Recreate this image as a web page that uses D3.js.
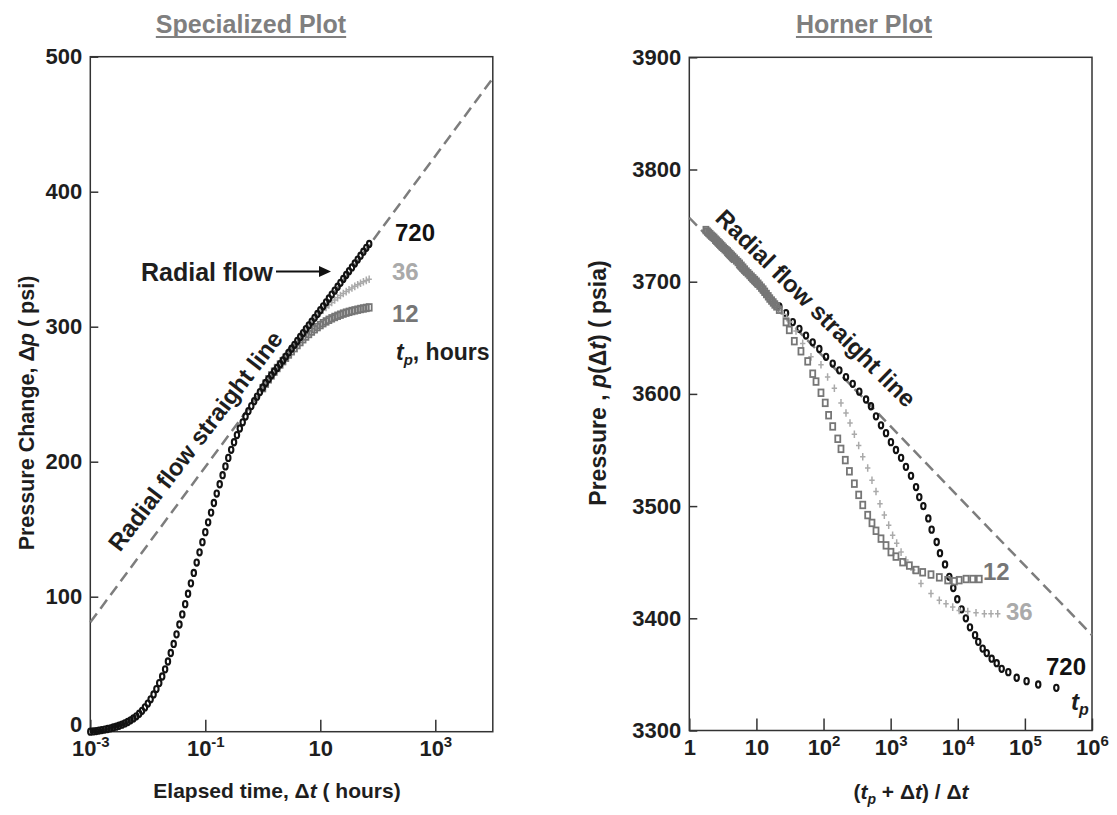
<!DOCTYPE html>
<html><head><meta charset="utf-8">
<script src="https://cdn.jsdelivr.net/npm/d3@7"></script>
<style>
body{margin:0;background:#fff;}
svg text{font-family:"Liberation Sans",Arial,Helvetica,sans-serif;font-weight:bold;}
</style></head><body>
<svg id="c" width="1117" height="815"></svg>
<script>
// ---------------- DATA ----------------
// Specialized plot (semi-log): elapsed time (hours) and pressure change (psi)
const dtHours = [0.001,0.00112,0.00126,0.00141,0.00158,0.00178,0.002,0.00224,0.00251,0.00282,0.00316,0.00355,0.00398,0.00447,0.00501,0.00562,0.00631,0.00708,0.00794,0.00891,
0.01,0.0112,0.0126,0.0141,0.0158,0.0178,0.02,0.0224,0.0251,0.0282,0.0316,0.0355,0.0398,0.0447,0.0501,0.0562,0.0631,0.0708,0.0794,0.0891,
0.1,0.112,0.126,0.141,0.158,0.178,0.2,0.224,0.251,0.282,0.316,0.355,0.398,0.447,0.501,0.562,0.631,0.708,0.794,0.891,
1,1.12,1.26,1.41,1.58,1.78,2,2.24,2.51,2.82,3.16,3.55,3.98,4.47,5.01,5.62,6.31,7.08,7.94,8.91,
10,11.2,12.6,14.1,15.8,17.8,20,22.4,25.1,28.2,31.6,35.5,39.8,44.7,50.1,56.2,63.1,70.8];
const dp720 = [0,0.2,0.5,0.8,1.2,1.6,2.0,2.5,3.1,3.7,4.4,5.2,6.1,7.2,8.4,9.8,11.4,13.3,15.5,18.0,
20.8,24.0,27.6,31.6,36.0,40.9,46.2,52.0,58.3,65.0,72.1,79.4,86.9,94.5,102.2,109.9,117.6,125.3,132.9,140.4,
147.8,155.1,162.3,169.4,176.4,183.3,190.0,196.5,202.8,208.8,214.4,219.7,224.6,229.2,233.5,237.5,241.2,244.8,248.2,251.6,
255.0,258.3,261.2,264.0,266.8,269.5,272.2,275.0,277.9,280.8,283.7,286.6,289.5,292.4,295.3,298.2,301.0,303.8,306.6,309.4,
312.2,315.1,318.0,320.9,323.8,326.7,329.6,332.5,335.4,338.3,341.1,343.9,346.8,349.7,352.6,355.5,358.4,361.3];
// tp = 12 h starts at dt = 1 h, tp = 36 h starts at dt = 5.01 h (earlier points coincide with 720)
const dt12Start = 1;
const dp12 = [254.5,257.8,261.0,263.9,266.7,269.4,272.0,274.5,277.0,279.4,281.8,284.1,286.4,288.6,290.7,292.7,294.6,296.4,298.1,299.7,
301.2,302.6,303.9,305.1,306.2,307.2,308.1,308.9,309.7,310.4,311.0,311.6,312.1,312.6,313.1,313.5,313.9,314.3];
const dt36Start = 5.01;
const dp36 = [295.5,298.2,300.8,303.3,305.7,308.0,310.2,312.3,314.3,316.2,318.0,319.8,321.5,323.1,324.6,326.0,327.4,328.7,329.9,331.1,332.2,333.3,334.3,335.2];
// radial-flow straight line (specialized plot): [dt, dp]
const radialLineLeft = [[0.001,81],[10000,484]];

// Horner plot: (tp+dt)/dt and pressure (psia)
const hornerX720 = [21.9,27.6,34.8,43.6,54.8,68.9,86.5,109,137,172,216,272,341,430,509,605,718,853,1010,1200,1430,1690,2010,2390,2670,3070,3640,4080,4850,5430,6460,7480,8570,9840,11400,13200,15200,18100,20200,23500,27000,32000,38000,45100,56600,75500,106000,158000,294000];
const hornerP720 = [3678,3672,3664,3658,3652,3646,3640,3633,3627,3621,3615,3609,3602,3595,3589,3580,3572,3565,3557,3550,3543,3535,3527,3517,3508,3500,3489,3479,3468,3458,3448,3437,3427,3417,3408,3400,3392,3385,3379,3373,3369,3364,3360,3355,3352,3347,3344,3341,3338];
const hornerX36 = [2.24,2.51,2.82,3.16,3.55,3.98,4.47,5.01,5.62,6.31,7.08,7.94,8.91,10,11.2,12.6,14.1,15.8,17.8,20,22.4,25.1,28.2,31.6,38.9,48.9,65,91.6,115,145,182,216,248,288,334,384,455,527,605,693,805,935,1070,1230,1430,1690,2130,2830,3990,5310,6680,8410,10500,14100,18700,24900,31300,39400];
const hornerP36 = [3740.5,3737,3734.5,3731.5,3728.5,3725.5,3722.5,3719.5,3716.5,3713,3709.5,3706.5,3703.5,3700.5,3697,3693.5,3689.5,3686,3682,3678.5,3675,3671,3668,3664,3656,3645,3633,3626,3615,3605,3592,3583,3574,3564,3554,3544,3534,3523,3513,3502,3492,3483,3474,3467,3459,3452,3443,3431,3422,3416,3413,3410,3407,3406,3405,3404,3404,3404];
const hornerX12 = [1.77,1.86,1.95,2.04,2.14,2.24,2.34,2.45,2.57,2.69,2.82,2.95,3.09,3.24,3.39,3.55,3.72,3.89,4.07,4.27,4.47,4.73,5.01,5.31,5.62,5.96,6.31,6.68,7.08,7.5,7.94,8.41,8.91,9.44,10,10.6,11.2,11.9,12.6,13.3,14.1,15,15.8,16.8,17.8,18.8,20,21.9,
27.6,30.9,36.7,46.1,58.1,69,77.3,91.6,106,119,137,163,182,211,243,288,334,384,455,527,605,718,853,1010,1200,1510,1900,2390,3000,3990,5310,7080,8890,10500,13300,16700,20900];
const hornerP12 = [3746,3744.7,3743.5,3742.3,3741,3740,3739,3737.6,3736.5,3735.2,3734,3732.8,3731.5,3730.2,3729,3728,3727,3725.7,3724.5,3723.2,3722,3720.5,3719,3717.5,3716,3714.2,3712.5,3710.8,3709,3707.5,3706,3704.5,3703,3701.5,3700,3698.2,3696.5,3694.7,3693,3691,3689,3687,3685,3683.2,3681.5,3679.7,3678,3675,
3664,3657,3647,3638,3629,3618,3611,3601,3592,3581,3571,3560,3551,3541,3531,3520,3510,3501,3492,3485,3478,3471,3465,3459,3455,3450,3447,3443,3441,3439,3436.5,3434,3433,3434,3435,3435,3435];
const radialLineRight = [[1,3757],[1e6,3385]];

// ticks
const leftXTicks = [0.001,0.1,10,1000];
const leftXTickLabels = ["10^-3","10^-1","10","10^3"];
const leftYTicks = [0,100,200,300,400,500];
const rightXTicks = [1,10,100,1000,1e4,1e5,1e6];
const rightXTickLabels = ["1","10","10^2","10^3","10^4","10^5","10^6"];
const rightYTicks = [3300,3400,3500,3600,3700,3800,3900];

// ---------------- DRAW ----------------
const C720 = "#121212", C36 = "#aaaaaa", C12 = "#767676", CDASH = "#7d7d7d";
const svg = d3.select("#c");

const L = {x0:90.3, x1:492.8, y0:56.7, y1:731.7};
const R = {x0:689.3, x1:1092, y0:57.3, y1:730.5};
const xL = d3.scaleLog().domain([1e-3,1e4]).range([L.x0,L.x1]);
const yL = d3.scaleLinear().domain([0,500]).range([L.y1,L.y0]);
const xR = d3.scaleLog().domain([1,1e6]).range([R.x0,R.x1]);
const yR = d3.scaleLinear().domain([3300,3900]).range([R.y1,R.y0]);

function supText(sel, s){
  sel.text(null);
  const parts = s.split("^");
  sel.append("tspan").text(parts[0]);
  if(parts.length>1) sel.append("tspan").attr("dy",-9).attr("font-size",15).text(parts[1].replace("-","\u2011"));
}

function axes(B, x, y, xt, xtl, yt){
  const gx = svg.append("g").attr("transform",`translate(0,${B.y1})`)
    .call(d3.axisBottom(x).tickValues(xt).tickSizeInner(-12).tickSizeOuter(0).tickPadding(9).tickFormat(()=>""));
  gx.select(".domain").remove();
  gx.selectAll(".tick line").attr("stroke","#333").attr("stroke-width",1.5);
  gx.selectAll(".tick text").attr("font-size",22).attr("fill","#1e1e1e").attr("font-family","Liberation Sans, Arial, sans-serif").attr("font-weight","bold")
    .each(function(d,i){ supText(d3.select(this), xtl[i]); });
  const gy = svg.append("g").attr("transform",`translate(${B.x0},0)`)
    .call(d3.axisLeft(y).tickValues(yt).tickFormat(d3.format("d")).tickSizeInner(-8).tickSizeOuter(0).tickPadding(8));
  gy.select(".domain").remove();
  gy.selectAll(".tick line").attr("stroke","#333").attr("stroke-width",1.5);
  gy.selectAll(".tick text").attr("font-size",22).attr("fill","#1e1e1e").attr("font-family","Liberation Sans, Arial, sans-serif").attr("font-weight","bold");
  svg.append("rect").attr("x",B.x0).attr("y",B.y0).attr("width",B.x1-B.x0).attr("height",B.y1-B.y0)
    .attr("fill","none").attr("stroke","#333").attr("stroke-width",1.5);
  return gy;
}
const gyL = axes(L, xL, yL, leftXTicks, leftXTickLabels, leftYTicks);
axes(R, xR, yR, rightXTicks, rightXTickLabels, rightYTicks);
// lift the "0" label slightly, as in the reference
gyL.selectAll(".tick").filter(d=>d===0).select("text").attr("y",-7);

// dashed radial lines
const lineGen = (x,y)=>d3.line().x(d=>x(d[0])).y(d=>y(d[1]));
svg.append("path").attr("d",lineGen(xL,yL)(radialLineLeft)).attr("fill","none").attr("stroke",CDASH).attr("stroke-width",2.5).attr("stroke-dasharray","11,6");
svg.append("path").attr("d",lineGen(xR,yR)(radialLineRight)).attr("fill","none").attr("stroke",CDASH).attr("stroke-width",2.5).attr("stroke-dasharray","11,6");

// markers
function squares(pts, x, y){
  svg.append("g").selectAll("rect").data(pts).join("rect")
    .attr("x",d=>x(d[0])-2.5).attr("y",d=>y(d[1])-3.3).attr("width",5).attr("height",6.6)
    .attr("fill","none").attr("stroke",C12).attr("stroke-width",1.8);
}
function pluses(pts, x, y){
  svg.append("g").selectAll("path").data(pts).join("path")
    .attr("d",d=>`M${x(d[0])-2.7},${y(d[1])}h5.4M${x(d[0])},${y(d[1])-3.8}v7.6`)
    .attr("fill","none").attr("stroke",C36).attr("stroke-width",1.5);
}
function ovals(pts, x, y){
  svg.append("g").selectAll("ellipse").data(pts).join("ellipse")
    .attr("cx",d=>x(d[0])).attr("cy",d=>y(d[1])).attr("rx",2.2).attr("ry",3.1)
    .attr("fill","none").attr("stroke",C720).attr("stroke-width",2.1);
}
const i12 = dtHours.indexOf(dt12Start), i36 = dtHours.indexOf(dt36Start);
squares(dp12.map((v,i)=>[dtHours[i12+i],v]), xL, yL);
pluses(dp36.map((v,i)=>[dtHours[i36+i],v]), xL, yL);
ovals(dp720.map((v,i)=>[dtHours[i],v]), xL, yL);

ovals(hornerX720.map((v,i)=>[v,hornerP720[i]]), xR, yR);
pluses(hornerX36.map((v,i)=>[v,hornerP36[i]]), xR, yR);
squares(hornerX12.map((v,i)=>[v,hornerP12[i]]), xR, yR);

// ---------------- TEXT ----------------
function txt(x,y,s,opt={}){
  const t = svg.append("text").attr("x",x).attr("y",y).attr("font-size",opt.size||24)
    .attr("fill",opt.fill||"#1e1e1e").attr("text-anchor",opt.anchor||"start");
  if(opt.rot!=null) t.attr("transform",`rotate(${opt.rot},${x},${y})`);
  return t;
}
function title(x,y,s){
  const t = txt(x,y,s,{size:25,fill:"#7f7f7f",anchor:"middle"}).text(s);
  const w = t.node().getComputedTextLength();
  svg.append("line").attr("x1",x-w/2).attr("x2",x+w/2).attr("y1",y+4).attr("y2",y+4).attr("stroke","#7f7f7f").attr("stroke-width",2.2);
}
title(251,33,"Specialized Plot");
title(864,33,"Horner Plot");

// curve labels left
txt(395,241,"720",{fill:C720}).text("720");
txt(392,280,"36",{fill:C36}).text("36");
txt(392,322,"12",{fill:C12}).text("12");
{ const t = txt(396,360,"",{size:23});
  t.append("tspan").attr("font-style","italic").text("t");
  t.append("tspan").attr("font-style","italic").attr("font-size",15).attr("dy",5).text("p");
  t.append("tspan").attr("dy",-5).text(", hours"); }
// radial flow arrow
txt(141,281,"",{size:25}).text("Radial flow");
svg.append("line").attr("x1",276).attr("x2",322).attr("y1",271.5).attr("y2",271.5).attr("stroke","#111").attr("stroke-width",2);
svg.append("path").attr("d","M331,271.5 L319,266 L319,277 Z").attr("fill","#111");
// rotated annotation left
txt(202,446,"",{anchor:"middle",rot:-52.5}).text("Radial flow straight line");

// curve labels right
txt(983,580,"12",{fill:C12}).text("12");
txt(1006,620,"36",{fill:C36}).text("36");
txt(1046,675,"720",{fill:C720}).text("720");
{ const t = txt(1071,710,"",{size:24});
  t.append("tspan").attr("font-style","italic").text("t");
  t.append("tspan").attr("font-style","italic").attr("font-size",16).attr("dy",5).text("p"); }
txt(810,314,"",{anchor:"middle",rot:44.6}).text("Radial flow straight line");

// axis titles
{ const t = txt(277,798,"",{size:21,anchor:"middle"});
  t.append("tspan").text("Elapsed time, \u0394");
  t.append("tspan").attr("font-style","italic").text("t");
  t.append("tspan").text(" ( hours)"); }
{ const t = txt(911,799,"",{size:21,anchor:"middle"});
  t.append("tspan").text("(");
  t.append("tspan").attr("font-style","italic").text("t");
  t.append("tspan").attr("font-style","italic").attr("font-size",14).attr("dy",5).text("p");
  t.append("tspan").attr("dy",-5).text(" + \u0394");
  t.append("tspan").attr("font-style","italic").text("t");
  t.append("tspan").text(") / \u0394");
  t.append("tspan").attr("font-style","italic").text("t"); }
{ const t = txt(34,413,"",{size:21.5,anchor:"middle",rot:-90});
  t.append("tspan").text("Pressure Change, \u0394");
  t.append("tspan").attr("font-style","italic").text("p");
  t.append("tspan").text(" ( psi)"); }
{ const t = txt(606,383,"",{size:23,anchor:"middle",rot:-90});
  t.append("tspan").text("Pressure , ");
  t.append("tspan").attr("font-style","italic").text("p");
  t.append("tspan").text("(\u0394");
  t.append("tspan").attr("font-style","italic").text("t");
  t.append("tspan").text(") ( psia)"); }
</script>
</body></html>
